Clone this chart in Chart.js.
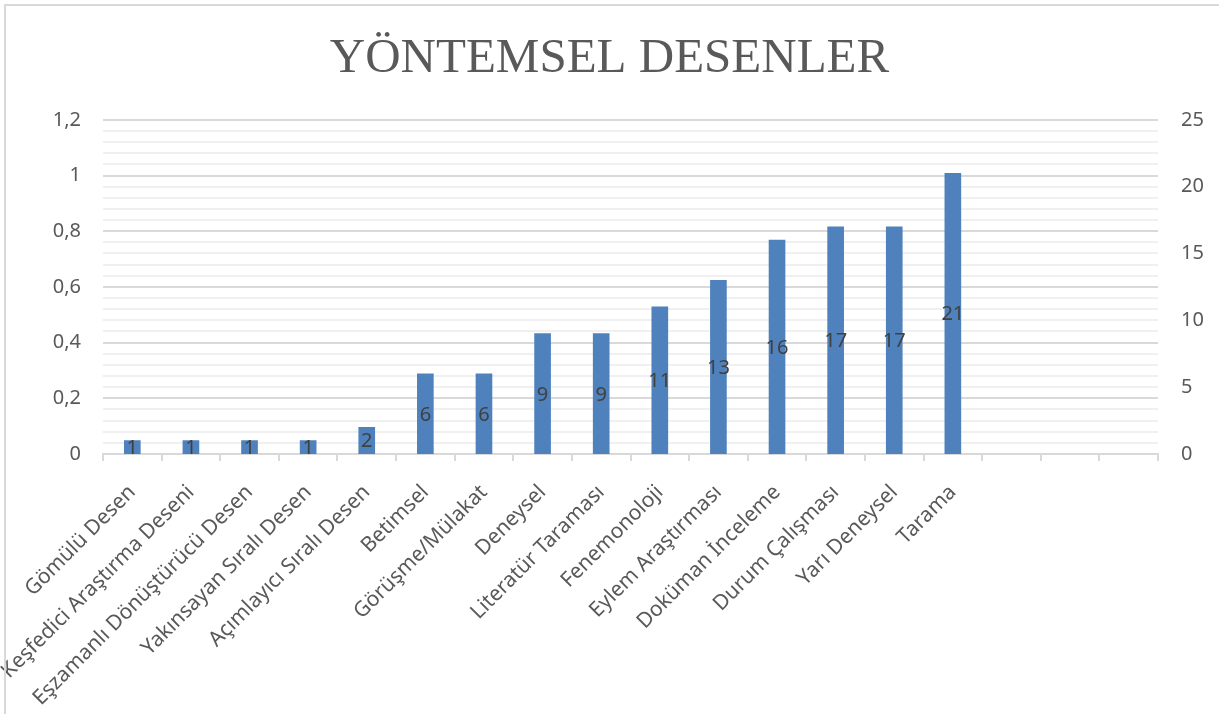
<!DOCTYPE html>
<html>
<head>
<meta charset="utf-8">
<script src="https://cdn.jsdelivr.net/npm/chart.js@4"></script>
<style>
  html, body { margin: 0; padding: 0; background: #fff; }
  #wrap { position: relative; width: 1219px; height: 714px; }
  #frame { position: absolute; left: 4px; top: 4px; width: 1300px; height: 800px;
           border-left: 2px solid #D9D9D9; border-top: 2px solid #D9D9D9; box-sizing: border-box; pointer-events: none; }
</style>
</head>
<body>
<div id="wrap">
  <canvas id="chart" width="1219" height="714"></canvas>
  <div id="frame"></div>
</div>
<script>
// Chart data
const categories = [
    'Gömülü Desen', 'Keşfedici Araştırma Deseni', 'Eşzamanlı Dönüştürücü Desen',
    'Yakınsayan Sıralı Desen', 'Açımlayıcı Sıralı Desen', 'Betimsel', 'Görüşme/Mülakat',
    'Deneysel', 'Literatür Taraması', 'Fenemonoloji', 'Eylem Araştırması',
    'Doküman İnceleme', 'Durum Çalışması', 'Yarı Deneysel', 'Tarama', '', '', ''
];
const counts = [1, 1, 1, 1, 2, 6, 6, 9, 9, 11, 13, 16, 17, 17, 21, null, null, null];
const leftTickLabels = ['0', '0,2', '0,4', '0,6', '0,8', '1', '1,2'];
const rightTickLabels = ['0', '5', '10', '15', '20', '25'];

const tickFont = { family: "'Noto Sans', sans-serif", size: 20 };

// Value labels in the middle of each bar
const barValueLabels = {
    id: 'barValueLabels',
    afterDatasetsDraw(chart) {
        const ctx = chart.ctx;
        const meta = chart.getDatasetMeta(0);
        ctx.save();
        ctx.font = "20px 'Noto Sans', sans-serif";
        ctx.fillStyle = '#404040';
        ctx.textAlign = 'center';
        ctx.textBaseline = 'middle';
        meta.data.forEach((bar, i) => {
            const v = counts[i];
            if (v === null) return;
            ctx.fillText(String(v), bar.x, (bar.y + bar.base) / 2 + 1);
        });
        ctx.restore();
    }
};

new Chart(document.getElementById('chart'), {
    type: 'bar',
    data: {
        labels: categories,
        datasets: [{
            label: 'Sayı',
            data: counts,
            yAxisID: 'y1',
            backgroundColor: '#4F81BD',
            barThickness: 16
        }]
    },
    options: {
        responsive: false,
        animation: false,
        layout: { padding: 0 },
        plugins: {
            legend: { display: false },
            tooltip: { enabled: false },
            title: {
                display: true,
                text: 'YÖNTEMSEL DESENLER',
                color: '#595959',
                font: { family: "'Liberation Serif', serif", size: 49, weight: 'normal', lineHeight: 1.2 },
                padding: { top: 30, bottom: 31 }
            }
        },
        scales: {
            x: {
                grid: {
                    display: true,
                    drawOnChartArea: false,
                    color: '#D9D9D9',
                    tickLength: 7,
                    lineWidth: 2
                },
                border: { display: true, color: '#D9D9D9', width: 2 },
                ticks: {
                    color: '#595959',
                    font: { family: "'Noto Sans', sans-serif", size: 21 },
                    minRotation: 45,
                    maxRotation: 45,
                    autoSkip: false,
                    padding: 19
                },
                afterFit(scale) { scale.height = 260; }
            },
            y: {
                position: 'left',
                min: 0,
                max: 1.2,
                border: { display: false },
                grid: {
                    drawTicks: false,
                    color: (c) => (c.index % 5 === 0 ? '#D9D9D9' : '#F0F0F0'),
                    lineWidth: 2
                },
                ticks: {
                    stepSize: 0.04,
                    autoSkip: false,
                    color: '#595959',
                    font: tickFont,
                    padding: 22,
                    callback: (value, index) => (index % 5 === 0 ? leftTickLabels[index / 5] : '')
                },
                afterFit(scale) { scale.width = 103; }
            },
            y1: {
                position: 'right',
                min: 0,
                max: 25,
                border: { display: false },
                grid: { display: false, drawTicks: false },
                ticks: {
                    stepSize: 5,
                    color: '#595959',
                    font: tickFont,
                    padding: 23,
                    callback: (value, index) => rightTickLabels[index]
                },
                afterFit(scale) { scale.width = 61; }
            }
        }
    },
    plugins: [barValueLabels]
});
</script>
</body>
</html>
